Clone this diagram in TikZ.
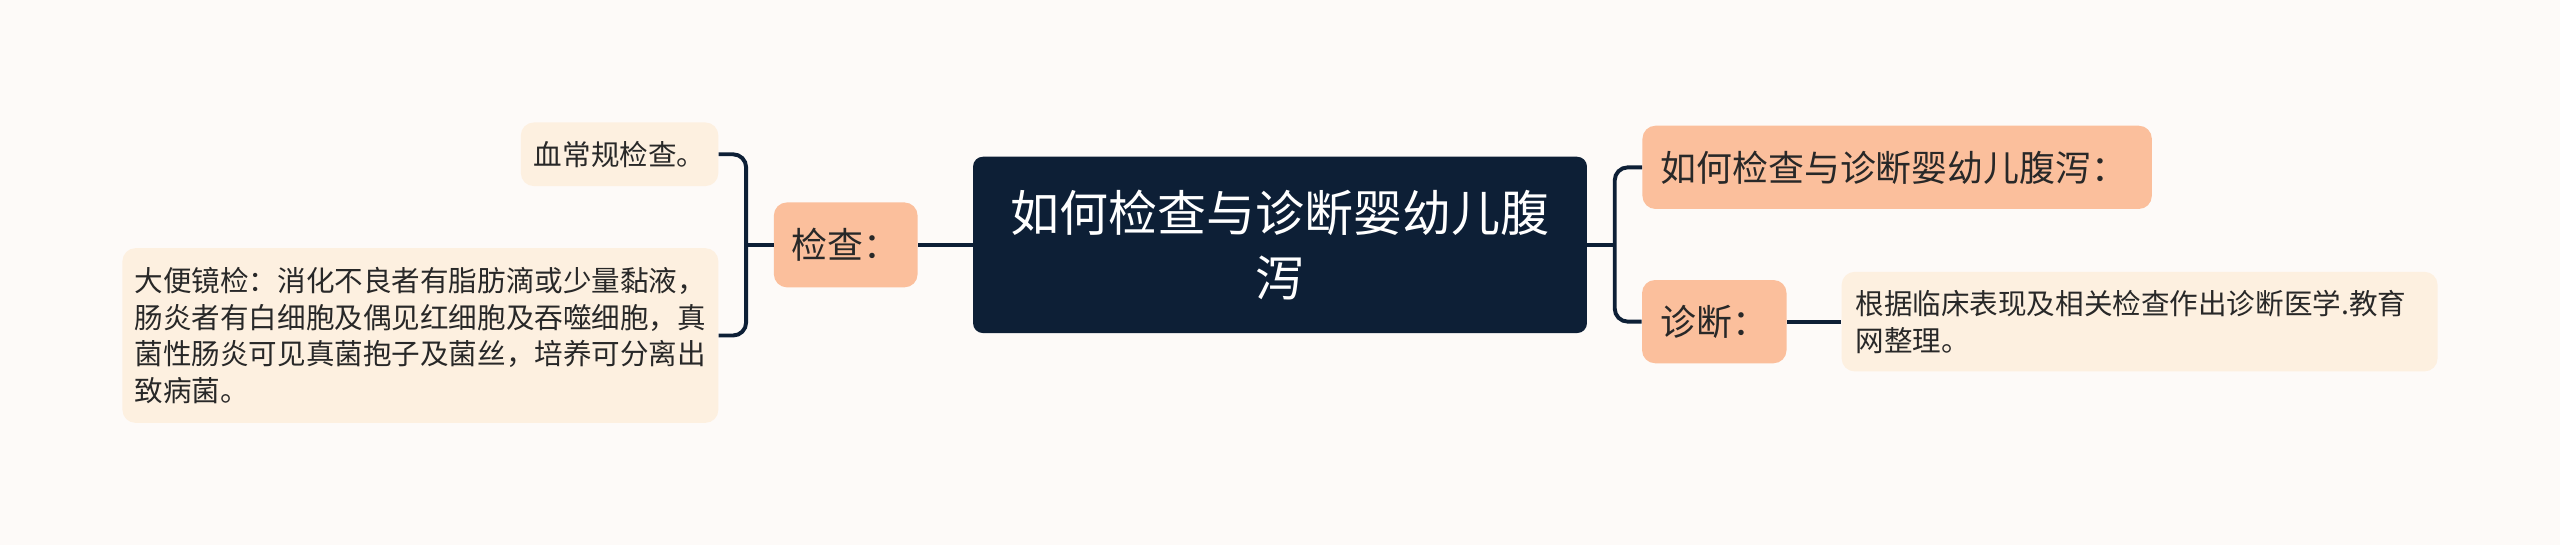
\documentclass[tikz,border=0pt]{standalone}
\usepackage{fontspec}
\setmainfont{Noto Sans CJK SC}
\usepackage{xcolor}
\definecolor{pagebg}{RGB}{253,250,248}
\definecolor{darknavy}{RGB}{13,31,54}
\definecolor{salmonfill}{RGB}{251,191,156}
\definecolor{creamfill}{RGB}{253,240,224}
\definecolor{inkgray}{RGB}{40,40,40}
\usetikzlibrary{positioning}

\tikzset{
  rootnode/.style={fill=darknavy, text=white, rounded corners=6pt, inner sep=0pt, align=center, font=\fontsize{30}{40}\selectfont},
  branchnode/.style={fill=salmonfill, text=inkgray, rounded corners=8pt, inner sep=0pt, align=left, font=\fontsize{22}{28}\selectfont},
  leafnode/.style={fill=creamfill, text=inkgray, rounded corners=8pt, inner sep=0pt, align=left, font=\fontsize{17.5}{22.5}\selectfont},
  link/.style={draw=darknavy, line width=2.4pt, rounded corners=8pt}
}

\begin{document}
\begin{tikzpicture}[x=1pt,y=-1pt]
	% page
	\fill[pagebg] (0,0) rectangle (1568,334);
	\useasboundingbox (0,0) rectangle (1568,334);

	% centre
	\node[rootnode, minimum width=376pt, minimum height=108pt] (root) at (784,150)
		{如何检查与诊断婴幼儿腹\\泻};

	% left side
	\node[branchnode, minimum width=88pt, minimum height=52pt] (jcbox) at (518,150) {检查：};
	\node[leafnode, minimum width=121pt, minimum height=39pt] (bloodbox) at (379.5,94.5) {血常规检查。};
	\node[leafnode, minimum width=365pt, minimum height=107pt] (stoolbox) at (257.5,205.5)
		{大便镜检：消化不良者有脂肪滴或少量黏液，\\肠炎者有白细胞及偶见红细胞及吞噬细胞，真\\菌性肠炎可见真菌抱子及菌丝，培养可分离出\\致病菌。};

	% right side
	\node[branchnode, inner xsep=11pt, text width=290pt, minimum height=51pt] (titlebox) at (1162,102.5) {如何检查与诊断婴幼儿腹泻：};
	\node[branchnode, minimum width=88.5pt, minimum height=51pt] (zdbox) at (1050,197) {诊断：};
	\node[leafnode, inner xsep=8.5pt, text width=348pt, minimum height=61pt] (notebox) at (1310.5,197)
		{根据临床表现及相关检查作出诊断医学.教育\\网整理。};

	% connectors
	\coordinate (lfork) at (457,150);
	\coordinate (rfork) at (989,150);
	\draw[link] (root.west) -- (jcbox.east);
	\draw[link] (jcbox.west) -- (lfork);
	\draw[link] (bloodbox.east) -| (lfork) |- (stoolbox.east);
	\draw[link] (root.east) -- (rfork);
	\draw[link] (titlebox.west) -| (rfork) |- (zdbox.west);
	\draw[link] (zdbox.east) -- (notebox.west);
\end{tikzpicture}
\end{document}
